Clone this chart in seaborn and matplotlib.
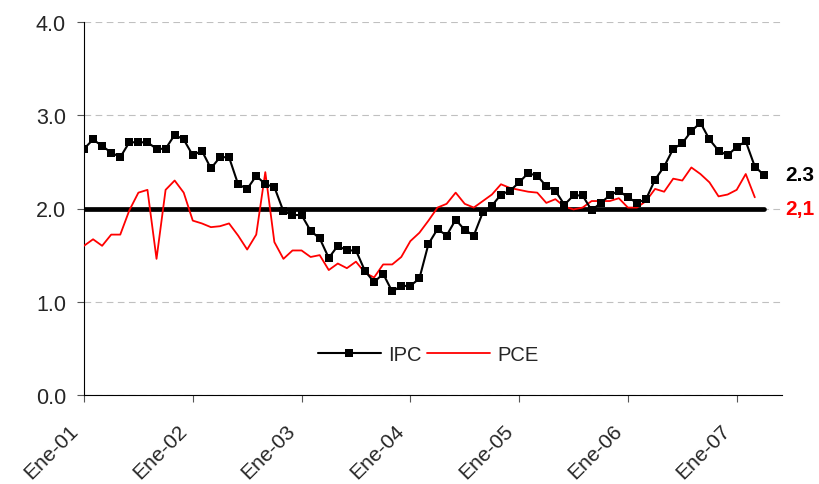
import pandas as pd
import seaborn as sns
import matplotlib.pyplot as plt
import matplotlib.transforms as mtransforms

# monthly data, Ene-01 = month 0
ipc = [2.64, 2.74, 2.67, 2.60, 2.55, 2.71, 2.71, 2.71, 2.64, 2.64,
       2.79, 2.74, 2.57, 2.62, 2.43, 2.55, 2.55, 2.26, 2.21, 2.35,
       2.26, 2.23, 1.97, 1.93, 1.93, 1.76, 1.68, 1.47, 1.60, 1.55,
       1.55, 1.33, 1.21, 1.30, 1.11, 1.17, 1.17, 1.25, 1.62, 1.78,
       1.71, 1.88, 1.77, 1.71, 1.96, 2.03, 2.15, 2.19, 2.28, 2.38,
       2.35, 2.24, 2.19, 2.04, 2.14, 2.14, 1.98, 2.06, 2.14, 2.19,
       2.12, 2.06, 2.10, 2.31, 2.45, 2.64, 2.70, 2.83, 2.92, 2.74,
       2.62, 2.57, 2.66, 2.72, 2.45, 2.36]
pce = [1.60, 1.67, 1.60, 1.72, 1.72, 1.98, 2.17, 2.20, 1.46, 2.20,
       2.30, 2.17, 1.87, 1.84, 1.80, 1.81, 1.84, 1.71, 1.56, 1.72,
       2.39, 1.64, 1.46, 1.55, 1.55, 1.48, 1.50, 1.34, 1.41, 1.36,
       1.43, 1.31, 1.26, 1.40, 1.40, 1.48, 1.65, 1.74, 1.87, 2.01,
       2.05, 2.17, 2.05, 2.01, 2.08, 2.15, 2.26, 2.22, 2.20, 2.18,
       2.17, 2.06, 2.10, 2.02, 1.99, 2.01, 2.08, 2.08, 2.08, 2.11,
       2.01, 2.01, 2.08, 2.21, 2.18, 2.32, 2.30, 2.44, 2.37, 2.28,
       2.13, 2.15, 2.20, 2.37, 2.12]
meta = 2.0
tick_labels = ['Ene-01', 'Ene-02', 'Ene-03', 'Ene-04', 'Ene-05', 'Ene-06', 'Ene-07']
end_labels = ['2.3', '2,1']

df_ipc = pd.DataFrame({'mes': range(len(ipc)), 'valor': ipc})
df_pce = pd.DataFrame({'mes': range(len(pce)), 'valor': pce})

sns.set_theme(style="white")
plt.rcParams['font.family'] = ['Liberation Sans', 'DejaVu Sans']

fig = plt.figure(figsize=(8.19, 4.85), dpi=100)
ax = fig.add_axes([84 / 819, 1 - 396 / 485, 698 / 819, 373 / 485])

ax.plot([0, len(ipc) - 1], [meta, meta], color='black', lw=3.4, zorder=2,
        solid_capstyle='round')
sns.lineplot(data=df_ipc, x='mes', y='valor', ax=ax, color='black', lw=1.5,
             marker='s', markersize=6, markeredgewidth=0, label='IPC', zorder=4)
sns.lineplot(data=df_pce, x='mes', y='valor', ax=ax, color='red', lw=1.3,
             label='PCE', zorder=3)

ax.set_xlim(0, 77)
ax.set_ylim(0, 4)
ax.set_yticks([0, 1, 2, 3, 4])
ax.set_yticklabels(['0.0', '1.0', '2.0', '3.0', '4.0'], fontsize=15.5)
ax.set_xticks(range(0, 12 * len(tick_labels), 12))
ax.set_xticklabels(tick_labels, rotation=45, ha='right', va='center',
                   rotation_mode='anchor', fontsize=15)
ax.set_xlabel('')
ax.set_ylabel('')
ax.yaxis.grid(True, color='#c0c0c0', linestyle=(0, (6, 4)), lw=0.8)
ax.set_axisbelow(True)
for s in ['top', 'right']:
    ax.spines[s].set_visible(False)
for s in ['left', 'bottom']:
    ax.spines[s].set_color('black')
    ax.spines[s].set_linewidth(0.8)
ax.tick_params(axis='both', which='both', direction='out', length=5, width=0.8,
               color='#555555', left=True, bottom=True)
ax.tick_params(axis='y', pad=8)
ax.tick_params(axis='x', pad=18)

# nudge the slanted month labels a little to the left
shift = mtransforms.ScaledTranslation(-9 / 100, 0, fig.dpi_scale_trans)
for lab in ax.get_xticklabels():
    lab.set_transform(lab.get_transform() + shift)

ax.legend(loc='center', bbox_to_anchor=(0.4935, 0.108), ncol=2, frameon=False,
          fontsize=14.5, handlelength=3.1, columnspacing=0.25, handletextpad=0.4)

ax.text(1.005, 2.36, end_labels[0], transform=ax.get_yaxis_transform(),
        fontsize=15, fontweight='bold', color='black', va='center', ha='left')
ax.text(1.005, 2.0, end_labels[1], transform=ax.get_yaxis_transform(),
        fontsize=15, fontweight='bold', color='red', va='center', ha='left')

fig.savefig('out.png', dpi=100)
